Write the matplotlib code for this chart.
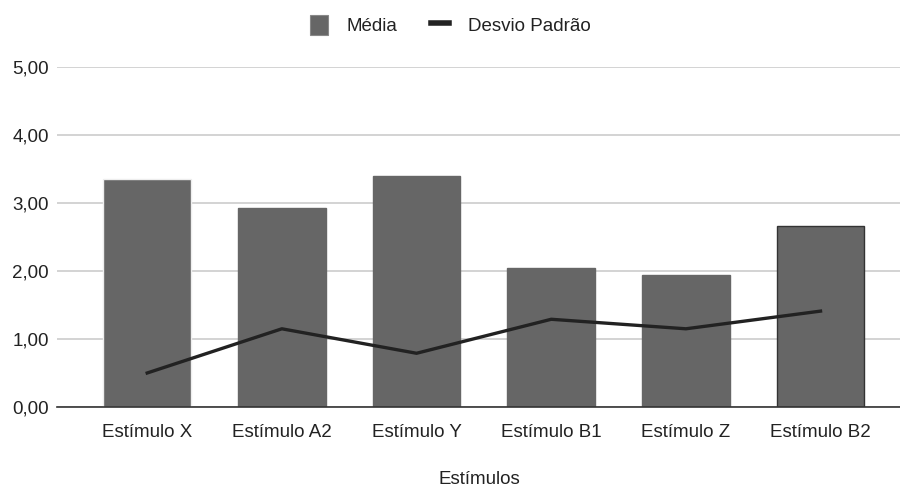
import matplotlib
matplotlib.use("Agg")
import matplotlib.pyplot as plt
from matplotlib.ticker import FuncFormatter
from matplotlib.patches import Patch
from matplotlib.lines import Line2D

categories = ["Estímulo X", "Estímulo A2", "Estímulo Y", "Estímulo B1", "Estímulo Z", "Estímulo B2"]
media = [3.35, 2.93, 3.39, 2.05, 1.94, 2.66]
desvio = [0.50, 1.15, 0.79, 1.29, 1.15, 1.41]
yticks = [0, 1, 2, 3, 4, 5]

plt.rcParams["font.family"] = ["Liberation Sans", "DejaVu Sans"]
FS = 13.5

fig = plt.figure(figsize=(9, 4.87), dpi=100)
ax = fig.add_axes([0.0633, 0.1643, 0.9367, 0.6981])

x = range(len(categories))
edges = ["#eeeeee", "#666666", "#666666", "#666666", "#666666", "#333333"]
ax.bar(x, media, width=0.65, color="#666666", edgecolor=edges, linewidth=1.0, zorder=2)
ax.plot(x, desvio, color="#222222", linewidth=2.4, zorder=3)

ax.set_ylim(0, 5)
ax.set_xlim(-0.67, 5.59)
ax.set_yticks(yticks)
ax.yaxis.set_major_formatter(FuncFormatter(lambda v, p: f"{v:.2f}".replace(".", ",")))
ax.set_xticks(list(x))
ax.set_xticklabels(categories)
ax.grid(axis="y", color="#cccccc", linewidth=1.2, zorder=0)
ax.set_axisbelow(True)
for s in ["top", "right", "left"]:
    ax.spines[s].set_visible(False)
ax.spines["bottom"].set_color("#333333")
ax.spines["bottom"].set_linewidth(1.2)
ax.spines["bottom"].set_zorder(4)
ax.tick_params(length=0, colors="#222222", labelsize=FS)
ax.tick_params(axis="x", pad=12)
ax.tick_params(axis="y", pad=6)
fig.text(0.533, 1 - 480 / 487, "Estímulos", fontsize=FS, color="#222222",
         ha="center", va="center")

handles = [
    Patch(facecolor="#666666", edgecolor="#888888", linewidth=0.8, label="Média"),
    Line2D([0], [0], color="#222222", linewidth=4, label="Desvio Padrão"),
]
fig.legend(handles=handles, loc="upper center", bbox_to_anchor=(0.5, 1.003), ncol=2,
           frameon=False, fontsize=FS, handlelength=0.95, handleheight=1.2,
           handletextpad=1.0, columnspacing=1.8, labelcolor="#222222")

fig.savefig("out.png", dpi=100)
